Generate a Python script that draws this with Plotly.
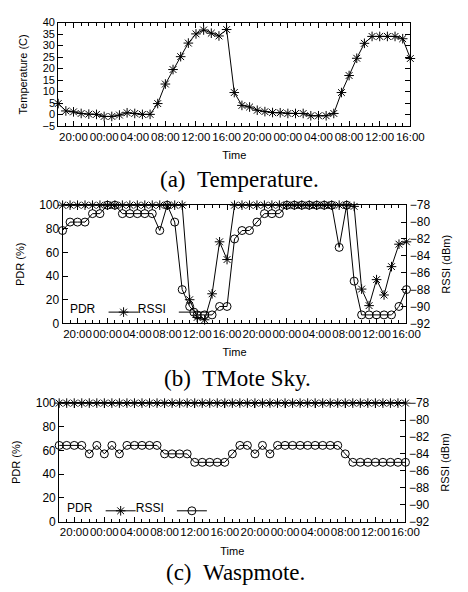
import plotly.graph_objects as go
import pandas as pd

# hourly samples from 18:00 (day 1) to 16:00 (day 3)
times = pd.date_range("2015-06-01 18:00", periods=47, freq="h")

temperature = [4.8, 1.6, 1.2, 0.5, 0.2, 0.1, -0.8, -0.8, -0.2, 0.8, 0.5, 0.1, 0.1,
               4.8, 13.3, 19.6, 25.2, 31.1, 35.1, 36.8, 35.4, 34.2, 37.0, 9.6,
               4.0, 3.3, 1.9, 1.3, 0.9, 0.8, 0.5, 0.5, 0.5, -0.5, -0.5, -0.5, 0.5,
               9.6, 17.0, 24.5, 31.0, 34.0, 34.0, 34.0, 34.0, 33.0, 24.4]

tmote_pdr = [100, 100, 100, 100, 100, 100, 100, 100, 100, 100, 100, 100, 100,
             100, 100, 100, 100, 20, 5, 3, 25, 69, 54,
             100, 100, 100, 100, 100, 100, 100, 100, 100, 100, 100, 100, 100,
             100, 100, 100, 99, 29, 15, 37, 24, 48, 67, 69]

tmote_rssi = [-81, -80, -80, -80, -79, -79, -78, -78, -79, -79, -79, -79, -79,
              -81, -78, -80, -88, -90, -91, -91, -91, -90, -90,
              -82, -81, -81, -80, -79, -79, -79, -78, -78, -78, -78, -78, -78,
              -78, -83, -78, -87, -91, -91, -91, -91, -91, -90, -88]

wasp_pdr = [100, 100, 100, 100, 100, 100, 100, 100, 100, 100, 100, 100, 100,
            100, 100, 100, 100, 100, 100, 100, 100, 100, 100,
            100, 100, 100, 100, 100, 100, 100, 100, 100, 100, 100, 100, 100,
            100, 100, 100, 100, 100, 100, 100, 100, 100, 100, 100]

wasp_rssi = [-83, -83, -83, -83, -84, -83, -84, -83, -84, -83, -83, -83, -83,
             -83, -84, -84, -84, -84, -85, -85, -85, -85, -85,
             -84, -83, -83, -84, -83, -84, -83, -83, -83, -83, -83, -83, -83,
             -83, -83, -84, -85, -85, -85, -85, -85, -85, -85, -85]

captions = ["(a)\u00a0\u00a0Temperature.", "(b)\u00a0\u00a0TMote Sky.", "(c)\u00a0\u00a0Waspmote."]

W, H = 468, 592
SANS = "Liberation Sans"
SERIF = "Liberation Serif"
BLACK = "black"

def px_x(a, b):
    return [a / W, b / W]

def px_y(top, bottom):
    return [1 - bottom / H, 1 - top / H]

fig = go.Figure()

line = dict(color=BLACK, width=1)
star = dict(symbol="asterisk-open", size=8, color=BLACK, line=dict(color=BLACK, width=1))
circ = dict(symbol="circle-open", size=8, color=BLACK, line=dict(color=BLACK, width=1))

fig.add_trace(go.Scatter(x=times, y=temperature, mode="lines+markers", line=line,
                         marker=star, xaxis="x", yaxis="y", showlegend=False, cliponaxis=False))

fig.add_trace(go.Scatter(x=times, y=tmote_pdr, name="", mode="lines+markers", line=line,
                         marker=star, xaxis="x2", yaxis="y2", legend="legend", cliponaxis=False))
fig.add_trace(go.Scatter(x=times, y=tmote_rssi, name="", mode="lines+markers", line=line,
                         marker=circ, xaxis="x2", yaxis="y3", legend="legend2", cliponaxis=False))

fig.add_trace(go.Scatter(x=times, y=wasp_pdr, name="", mode="lines+markers", line=line,
                         marker=star, xaxis="x3", yaxis="y4", legend="legend3", cliponaxis=False))
fig.add_trace(go.Scatter(x=times, y=wasp_rssi, name="", mode="lines+markers", line=line,
                         marker=circ, xaxis="x3", yaxis="y5", legend="legend4", cliponaxis=False))

tickfont = dict(family=SANS, size=12, color=BLACK)
toptickfont = dict(family=SANS, size=11, color=BLACK)
xtickfont = dict(family=SANS, size=11.5, color=BLACK)
titlefont = dict(family=SANS, size=11, color=BLACK)
xr = [times[0], times[-1]]

def xaxis(domain, anchor):
    return dict(domain=domain, anchor=anchor, type="date", range=xr,
                tickformat="%H:%M", dtick=4 * 3600 * 1000, tick0="2015-06-01 00:00",
                tickangle=0,
                ticks="inside", ticklen=5, tickwidth=1, tickcolor=BLACK,
                minor=dict(dtick=3600 * 1000, ticks="inside", ticklen=3, tickwidth=1, tickcolor=BLACK),
                showline=True, linecolor=BLACK, linewidth=1, mirror="ticks",
                showgrid=False, zeroline=False, tickfont=xtickfont,
                title=dict(text="Time", font=titlefont, standoff=9))

def yaxis(domain, anchor, rng, dtick, title, side="left", overlaying=None, mirror=False, font=None):
    d = dict(domain=domain, anchor=anchor, range=rng, dtick=dtick, side=side,
             ticks="inside", ticklen=5, tickwidth=1, tickcolor=BLACK,
             showline=True, linecolor=BLACK, linewidth=1, mirror=mirror,
             showgrid=False, zeroline=False, tickfont=font or tickfont,
             title=dict(text=title, font=titlefont, standoff=12))
    if overlaying:
        d["overlaying"] = overlaying
    return d

legend_common = dict(orientation="h", bgcolor="rgba(0,0,0,0)", borderwidth=0,
                     font=dict(family=SANS, size=12, color=BLACK),
                     itemwidth=30, xanchor="left", yanchor="middle", tracegroupgap=0)

def legend(x, y, title):
    d = dict(legend_common)
    d.update(x=x / W, y=1 - y / H,
             title=dict(text=title, side="left", font=dict(family=SANS, size=12, color=BLACK)))
    return d

fig.update_layout(
    width=W, height=H, margin=dict(l=0, r=0, t=0, b=0),
    paper_bgcolor="white", plot_bgcolor="white",
    font=dict(family=SANS, color=BLACK),
    xaxis=xaxis(px_x(60, 423), "y"),
    yaxis=yaxis(px_y(16, 122), "x", [-5, 40], 5, "Temperature (C)", mirror="ticks", font=toptickfont),
    xaxis2=xaxis(px_x(64.5, 419), "y2"),
    yaxis2=yaxis(px_y(203, 324), "x2", [0, 100], 20, "PDR (%)"),
    yaxis3=yaxis(px_y(203, 324), "x2", [-92, -78], 2, "RSSI (dBm)", side="right", overlaying="y2"),
    xaxis3=xaxis(px_x(61, 418), "y4"),
    yaxis4=yaxis(px_y(405.7, 527), "x3", [0, 100], 20, "PDR (%)"),
    yaxis5=yaxis(px_y(405.7, 527), "x3", [-92, -78], 2, "RSSI (dBm)", side="right", overlaying="y4"),
    legend=legend(70, 312.5, "PDR"),
    legend2=legend(140, 312.5, "RSSI"),
    legend3=legend(67, 516, "PDR"),
    legend4=legend(138, 516, "RSSI"),
)

for text, cx, cy in zip(captions, [247, 245, 243], [177, 381, 579]):
    fig.add_annotation(text=text, xref="paper", yref="paper", x=cx / W, y=1 - cy / H,
                       xanchor="center", yanchor="middle", showarrow=False,
                       font=dict(family=SERIF, size=23, color=BLACK))

fig.write_html("out.html", config={"displayModeBar": False},
               post_script="document.body.style.margin='0px';")
